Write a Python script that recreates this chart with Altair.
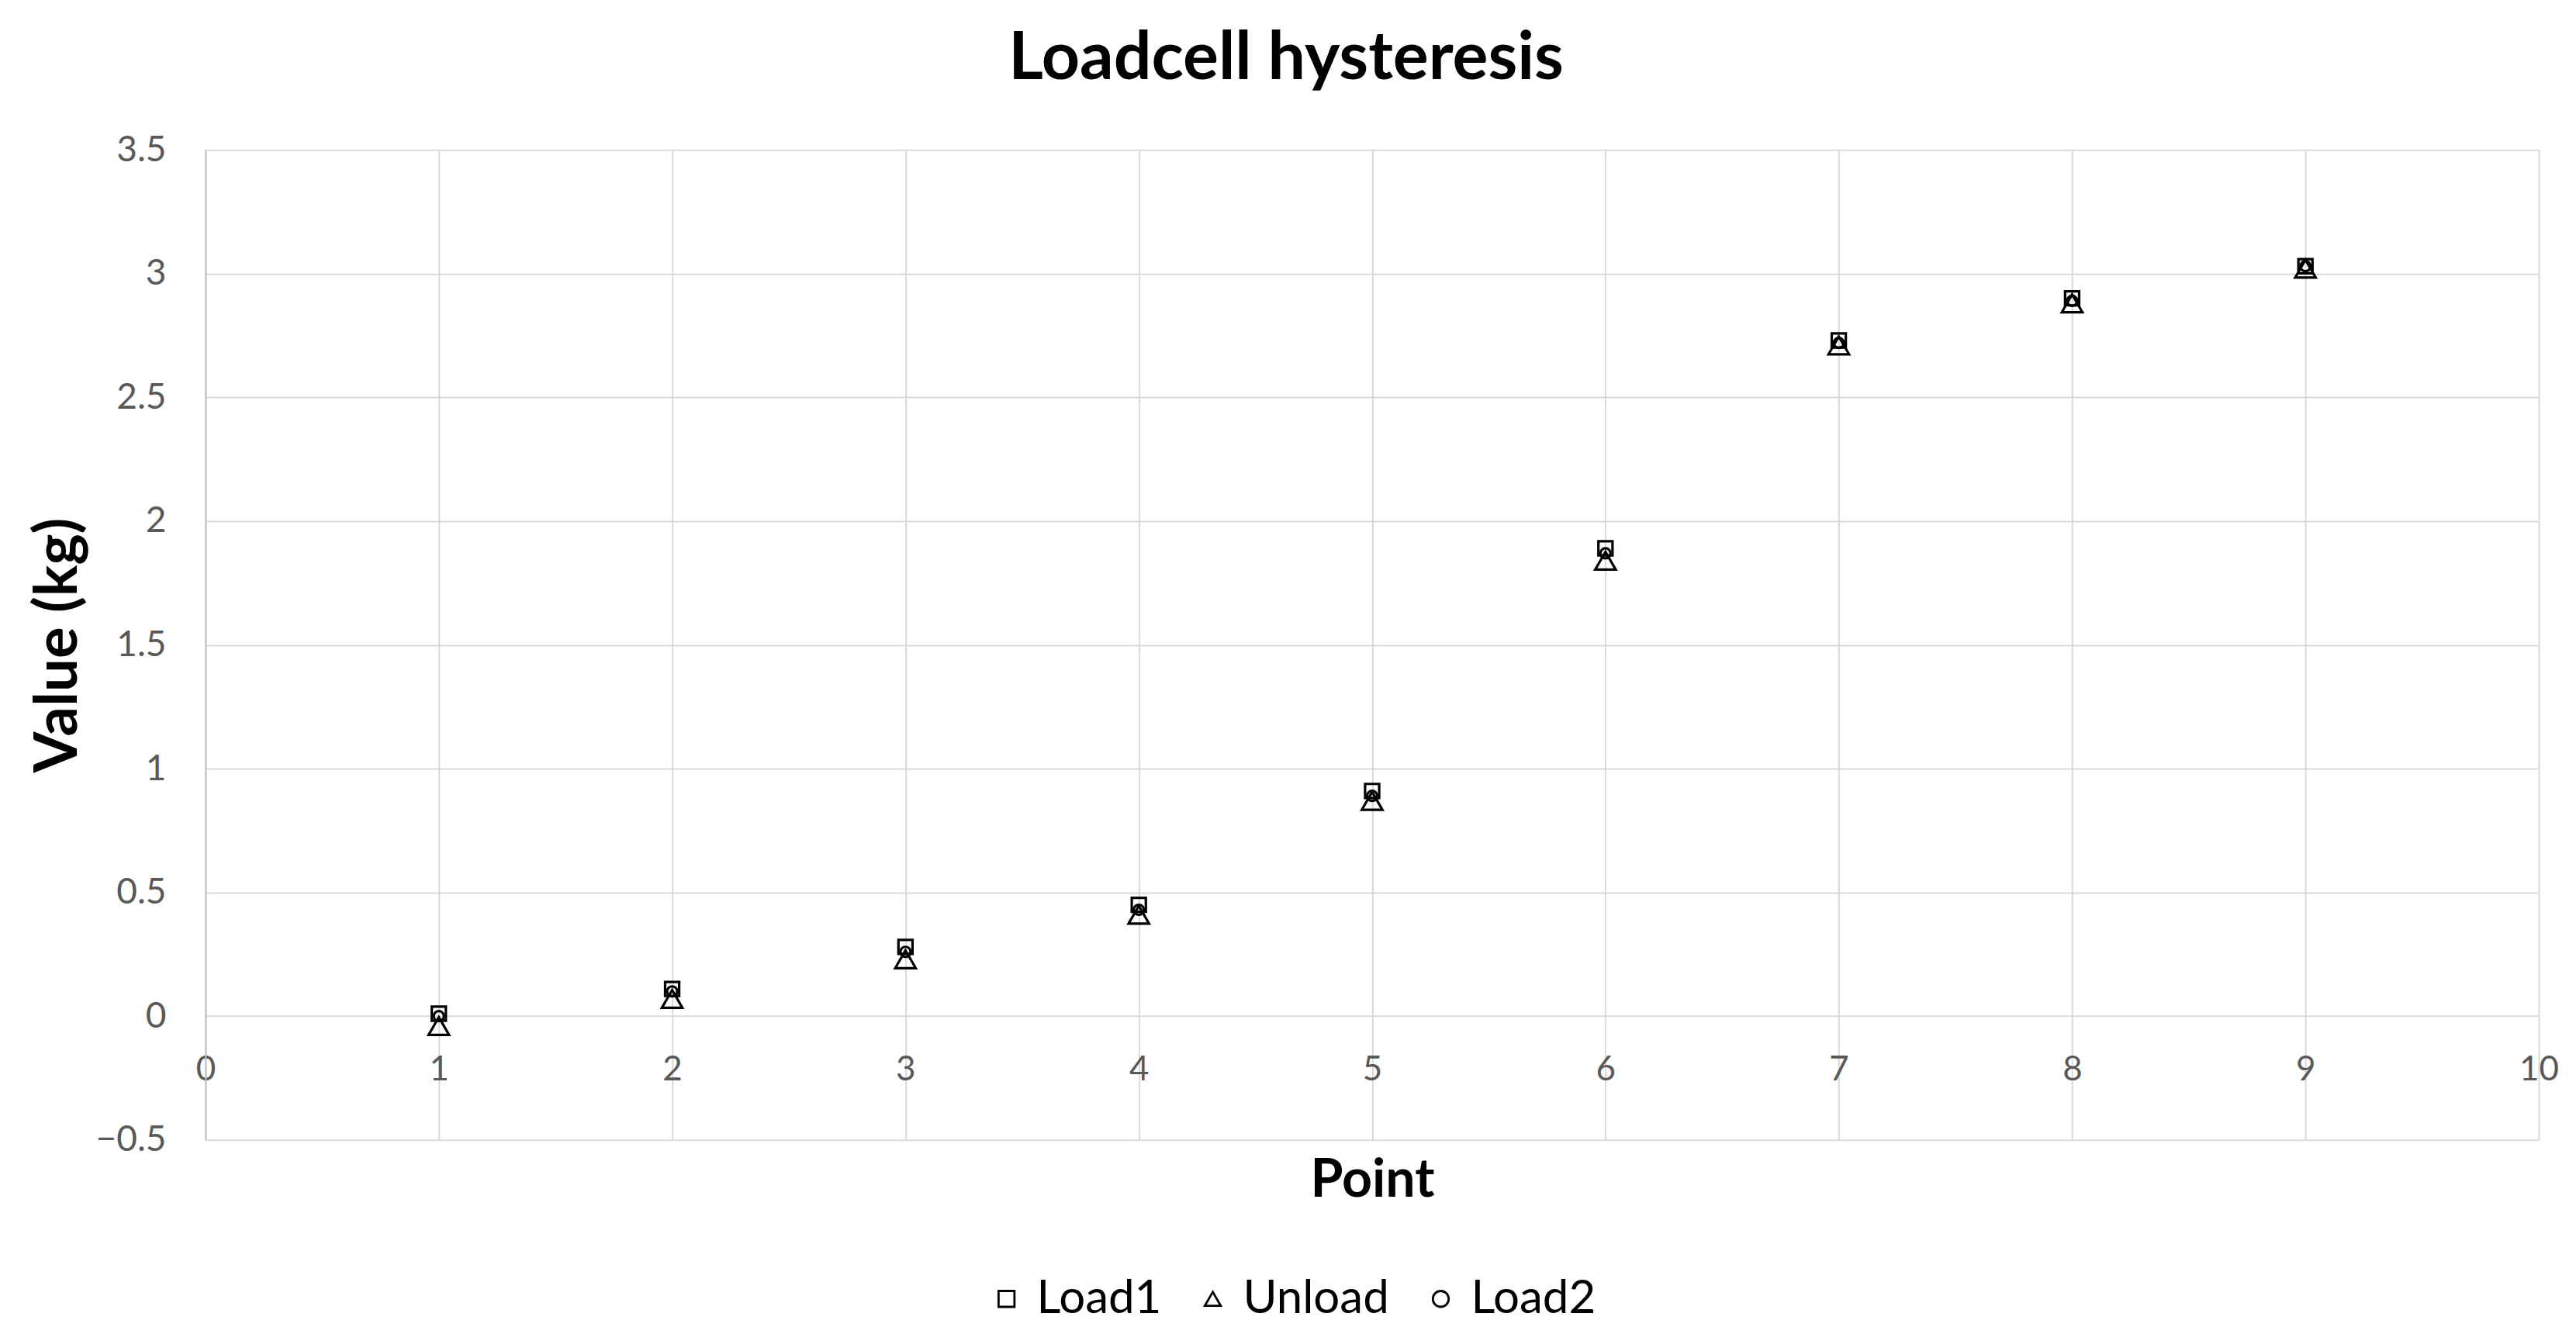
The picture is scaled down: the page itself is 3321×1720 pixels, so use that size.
import altair as alt
import pandas as pd

points = [1, 2, 3, 4, 5, 6, 7, 8, 9]
load1 = [0.01, 0.11, 0.28, 0.45, 0.91, 1.89, 2.73, 2.90, 3.03]
unload = [-0.04, 0.07, 0.23, 0.41, 0.87, 1.84, 2.71, 2.88, 3.02]
load2 = [0.00, 0.10, 0.26, 0.43, 0.89, 1.87, 2.72, 2.89, 3.03]

series_names = ["Load1", "Unload", "Load2"]
series_shapes = ["square", "triangle-up", "circle"]
series_sizes = [330, 700, 170]

x_ticks = list(range(0, 11))
y_ticks = [-0.5, 0, 0.5, 1, 1.5, 2, 2.5, 3, 3.5]

rows = []
for name, vals in zip(series_names, [load1, unload, load2]):
    for p, v in zip(points, vals):
        rows.append({"Point": p, "Value": v, "Series": name})
df = pd.DataFrame(rows)

W, H = 3009, 1277
FONT = "Lato"

x_enc = alt.X("Point:Q",
              scale=alt.Scale(domain=[0, 10], nice=False, zero=False),
              axis=alt.Axis(values=x_ticks, format="d", title="Point", grid=True, domain=False,
                            ticks=False, tickSize=0, labelPadding=-112, labelFontSize=44,
                            labelFlush=False, labelColor="#595959", labelFont=FONT, titleFont=FONT,
                            titleFontSize=68, titleFontWeight="bold", titleColor="black",
                            titleY=53, titleBaseline="middle", gridColor="#d9d9d9", gridWidth=2))
y_enc = alt.Y("Value:Q",
              scale=alt.Scale(domain=[-0.5, 3.5], nice=False, zero=False),
              axis=alt.Axis(values=y_ticks, format="~g", title="Value (kg)", grid=True, domain=True,
                            domainColor="#bfbfbf", domainWidth=2, ticks=False, tickSize=0,
                            labelFlush=False, labelPadding=51, labelFontSize=46, labelColor="#595959",
                            labelFont=FONT, titleFont=FONT, titleFontSize=76, titleFontWeight="bold",
                            titleColor="black", titleX=-189, titleY=H / 2, titleAngle=270,
                            titleAlign="center", titleBaseline="middle", gridColor="#d9d9d9",
                            gridWidth=2))
shape_enc = alt.Shape("Series:N",
                      scale=alt.Scale(domain=series_names, range=series_shapes),
                      legend=alt.Legend(title=None, orient="none", direction="horizontal",
                                        legendX=1003, legendY=1452, labelFontSize=60,
                                        labelFont=FONT, labelColor="black", labelLimit=0,
                                        symbolSize=420, symbolStrokeWidth=2.8,
                                        symbolStrokeColor="black", symbolFillColor="white",
                                        columnPadding=36, labelOffset=9))

base = alt.Chart(df)
layers = []
for name, sz in zip(series_names, series_sizes):
    layers.append(
        base.transform_filter(alt.datum.Series == name)
        .mark_point(filled=False, strokeWidth=3.2, opacity=1, color="black", size=sz)
        .encode(x=x_enc, y=y_enc, shape=shape_enc)
    )

chart = alt.layer(*layers).properties(
    width=W,
    height=H,
    title=alt.TitleParams("Loadcell hysteresis", font=FONT, fontSize=86, fontWeight="bold",
                          color="black", anchor="middle", dx=-111, offset=50),
    autosize=alt.AutoSizeParams(type="none"),
    padding={"left": 257, "top": 185, "right": 40, "bottom": 245},
).configure(background="white").configure_view(stroke=None)

chart.save("out.html", embed_options={"renderer": "svg", "actions": False})
